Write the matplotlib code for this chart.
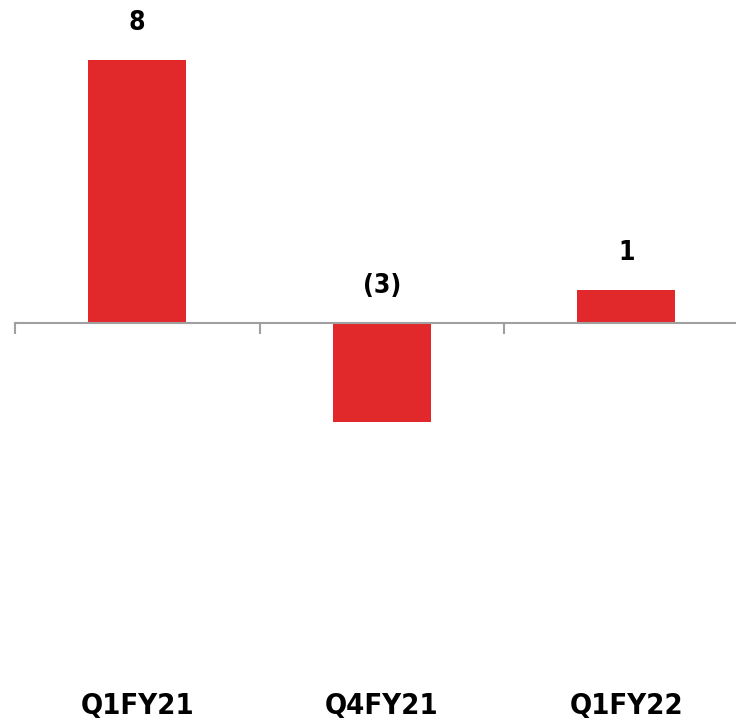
import matplotlib
matplotlib.use("Agg")
import matplotlib.pyplot as plt
import matplotlib.transforms as mtransforms

# 季度数据
quarters = ["Q1FY21", "Q4FY21", "Q1FY22"]
values = [8, -3, 1]
value_labels = ["8", "(3)", "1"]

BAR_COLOR = "#E1282A"
AXIS_COLOR = "#A0A0A0"
FONT = ["DejaVu Sans"]

W, H = 736, 721
fig = plt.figure(figsize=(W / 100, H / 100), dpi=100, facecolor="white")

# 轴区域：左边 15px，底部预留类目标签
left, top, bottom = 15, 0, 692
ax = fig.add_axes([left / W, 1 - bottom / H, 1 - left / W, (bottom - top) / H])

ax.bar(range(len(values)), values, width=0.4, color=BAR_COLOR, zorder=2)

# 数值标签：正值在柱顶上方，负值在零线上方
for i, (v, lab) in enumerate(zip(values, value_labels)):
    ax.annotate(lab, xy=(i, max(v, 0)), xytext=(0, 24), textcoords="offset pixels",
                ha="center", va="bottom", fontsize=19, fontweight="bold",
                fontstretch="condensed", family=FONT, color="black")

# 类目标签放在底部
trans = mtransforms.blended_transform_factory(ax.transData, ax.transAxes)
for i, q in enumerate(quarters):
    ax.text(i, 0, q, transform=trans, ha="center", va="top", fontsize=21,
            fontweight="bold", fontstretch="condensed", family=FONT,
            color="black")

# 零线与分隔刻度
for s in ["top", "right", "left"]:
    ax.spines[s].set_visible(False)
ax.spines["bottom"].set_position(("data", 0))
ax.spines["bottom"].set_color(AXIS_COLOR)
ax.spines["bottom"].set_linewidth(1.5)
ax.set_yticks([])
ax.set_xticks([-0.5, 0.5, 1.5])
ax.set_xticklabels([])
ax.tick_params(axis="x", direction="out", length=8, width=1.5, color=AXIS_COLOR)
ax.set_facecolor("white")

# 刻度设定后再固定范围
px_per_unit = 32.9
zero_px = 323
ax.set_ylim(-(bottom - zero_px) / px_per_unit, (zero_px - top) / px_per_unit)
slot_px = 244.5
ax.set_xlim(-0.5, -0.5 + (W - left) / slot_px)

fig.savefig("out.png", dpi=100, facecolor="white")
plt.close(fig)
